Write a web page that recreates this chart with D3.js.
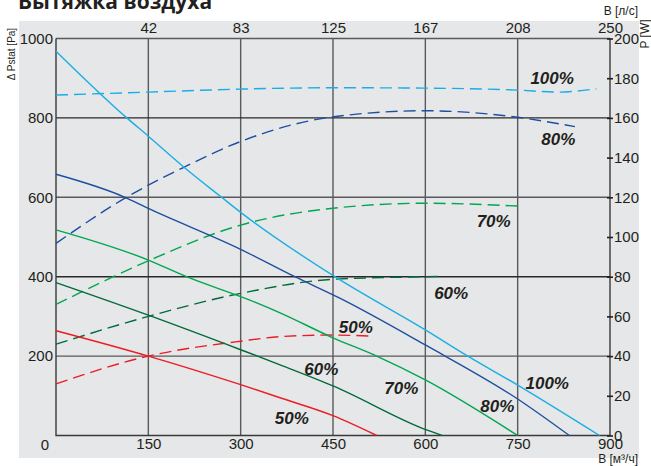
<!DOCTYPE html>
<html>
<head>
<meta charset="utf-8">
<script src="https://cdn.jsdelivr.net/npm/d3@7"></script>
<style>
  body { margin: 0; background: #fff; }
  svg text { font-family: "Liberation Sans", Arial, sans-serif; fill: #231f20; }
</style>
</head>
<body>
<div id="chart"></div>
<script>
// flow ticks, m3/h (bottom) and l/s (top)
const flowTicks = [150, 300, 450, 600, 750, 900]
const lsLabels = ["42", "83", "125", "167", "208", "250"]
const paTicks = [200, 400, 600, 800, 1000]
const wTicks = [0, 20, 40, 60, 80, 100, 120, 140, 160, 180, 200]

// pressure curves [flow m3/h, Pa]
const pa100 = [[0, 968], [115, 800], [150, 754], [207, 677], [269, 600], [300, 562], [453, 400], [600, 266], [669, 200], [750, 127], [883, 0]]
const pa80 = [[0, 658], [112, 600], [150, 572], [300, 469], [388, 400], [461, 346], [600, 228], [750, 92], [834, 0]]
const pa70 = [[0, 518], [150, 442], [212, 400], [315, 341], [364, 309], [450, 246], [521, 200], [600, 140], [750, 0]]
const pa60 = [[0, 385], [150, 303], [300, 216], [364, 178], [450, 125], [602, 14], [627, 0]]
const pa50 = [[0, 264], [150, 200], [300, 128], [364, 95], [450, 50], [521, 0]]

// power curves [flow m3/h, W]
const w100 = [[0, 171.5], [150, 173], [300, 174.5], [450, 175.2], [600, 175], [750, 174], [815, 173], [878, 174.7]]
const w80 = [[0, 96.8], [116, 120.3], [207, 135], [299, 148], [445, 160.3], [600, 163.6], [750, 160.3], [843, 155.6]]
const w70 = [[0, 66], [150, 88], [300, 106], [450, 114.5], [600, 117], [750, 115.6]]
const w60 = [[0, 46], [150, 60], [300, 71.6], [450, 78.7], [600, 80], [628, 80.2]]
const w50 = [[0, 26], [150, 40], [300, 47.5], [364, 49.8], [450, 50.6], [510, 50.1]]

// curve labels [text, flow, Pa]
const curveLabels = [
    ["100%", 806, 900], ["80%", 816, 746], ["70%", 711, 541], ["60%", 642, 360], ["50%", 487, 274],
    ["100%", 798, 133], ["80%", 717, 74], ["70%", 561, 121], ["60%", 431, 167], ["50%", 383, 44]
]

const width = 651
const height = 466

const svg = d3.select("#chart")
    .append("svg")
    .attr("width", width)
    .attr("height", height)

// grey panel
svg.append("rect")
    .attr("x", 19).attr("y", 21)
    .attr("width", 620).attr("height", 437)
    .attr("fill", "#e6e7e8")

svg.append("text")
    .attr("x", 18).attr("y", 9)
    .style("font-size", "21px")
    .style("font-weight", "bold")
    .style("font-family", "'Open Sans', sans-serif")
    .text("Вытяжка воздуха")

const x = d3.scaleLinear().domain([0, 900]).range([56, 610])
const y = d3.scaleLinear().domain([0, 1000]).range([435.5, 38.5])
const yW = d3.scaleLinear().domain([0, 200]).range([435.5, 38.5])

// grid
const grid = svg.append("g")
grid.selectAll(".vgrid")
    .data(flowTicks.slice(0, 5))
    .enter()
    .append("line")
    .attr("x1", d => x(d)).attr("x2", d => x(d))
    .attr("y1", y(0)).attr("y2", y(1000))
    .attr("stroke", "#5a5a5c")
    .attr("stroke-width", 1.4)
grid.selectAll(".hgrid")
    .data(paTicks)
    .enter()
    .append("line")
    .attr("x1", x(0)).attr("x2", x(900))
    .attr("y1", d => y(d)).attr("y2", d => y(d))
    .attr("stroke", (d, i) => i % 2 ? "#2a2a2a" : "#5a5a5c")
    .attr("stroke-width", 1.4)

// frame: left, bottom, right
svg.append("path")
    .attr("d", `M${x(0)},${y(1000)}V${y(0)}H${x(900)}V${y(1000)}`)
    .attr("fill", "none")
    .attr("stroke", "#3a3a3a")
    .attr("stroke-width", 1.4)

// axes
const axBottom = svg.append("g")
    .attr("transform", `translate(0,${y(0)})`)
    .call(d3.axisBottom(x).tickValues(flowTicks).tickSize(0).tickPadding(3))
const axTop = svg.append("g")
    .attr("transform", `translate(0,${y(1000)})`)
    .call(d3.axisTop(x).tickValues(flowTicks).tickSize(0).tickPadding(6)
        .tickFormat((d, i) => lsLabels[i]))
const axLeft = svg.append("g")
    .attr("transform", `translate(${x(0)},0)`)
    .call(d3.axisLeft(y).tickValues(paTicks).tickSize(0).tickPadding(3).tickFormat(d3.format("d")))
const axRight = svg.append("g")
    .attr("transform", `translate(${x(900)},0)`)
    .call(d3.axisRight(yW).tickValues(wTicks).tickSize(3).tickPadding(1))
axRight.selectAll(".tick line").attr("x1", -3).attr("stroke", "#231f20").attr("stroke-width", 1.6)

for (const g of [axBottom, axTop, axLeft, axRight]) {
    g.select(".domain").remove()
    g.selectAll("text").style("font-size", "15px").style("font-family", "'Liberation Sans', Arial, sans-serif")
}

svg.append("text")
    .attr("x", 45).attr("y", y(0) + 14)
    .attr("text-anchor", "middle")
    .style("font-size", "15px")
    .text("0")

// axis titles
svg.append("text")
    .attr("transform", "translate(15,54) rotate(-90)")
    .attr("text-anchor", "middle")
    .style("font-size", "10px")
    .text("Δ Pstat [Pa]")
svg.append("text")
    .attr("transform", "translate(649,34) rotate(-90)")
    .attr("text-anchor", "middle")
    .style("font-size", "12px")
    .text("P [W]")
svg.append("text")
    .attr("x", 638).attr("y", 15)
    .attr("text-anchor", "end")
    .style("font-size", "12px")
    .text("B [л/с]")
svg.append("text")
    .attr("x", 638).attr("y", 463)
    .attr("text-anchor", "end")
    .style("font-size", "12px")
    .text("B [м³/ч]")

const linePa = d3.line().x(d => x(d[0])).y(d => y(d[1])).curve(d3.curveMonotoneX)
const lineW = d3.line().x(d => x(d[0])).y(d => yW(d[1])).curve(d3.curveMonotoneX)

const colors = ["#1aaee5", "#1d4fa0", "#00a651", "#006b3a", "#ed1c24"]
const paSeries = [pa100, pa80, pa70, pa60, pa50]
const wSeries = [w100, w80, w70, w60, w50]

svg.append("g")
    .selectAll("path")
    .data(wSeries)
    .enter()
    .append("path")
    .attr("d", lineW)
    .attr("fill", "none")
    .attr("stroke", (d, i) => colors[i])
    .attr("stroke-width", 1.4)
    .attr("stroke-dasharray", "12,6")

svg.append("g")
    .selectAll("path")
    .data(paSeries)
    .enter()
    .append("path")
    .attr("d", linePa)
    .attr("fill", "none")
    .attr("stroke", (d, i) => colors[i])
    .attr("stroke-width", 1.4)

svg.append("g")
    .selectAll("text")
    .data(curveLabels)
    .enter()
    .append("text")
    .attr("x", d => x(d[1]))
    .attr("y", d => y(d[2]))
    .attr("dy", "0.36em")
    .attr("text-anchor", "middle")
    .style("font-size", "17px")
    .style("font-weight", "bold")
    .style("font-style", "italic")
    .text(d => d[0])
</script>
</body>
</html>
